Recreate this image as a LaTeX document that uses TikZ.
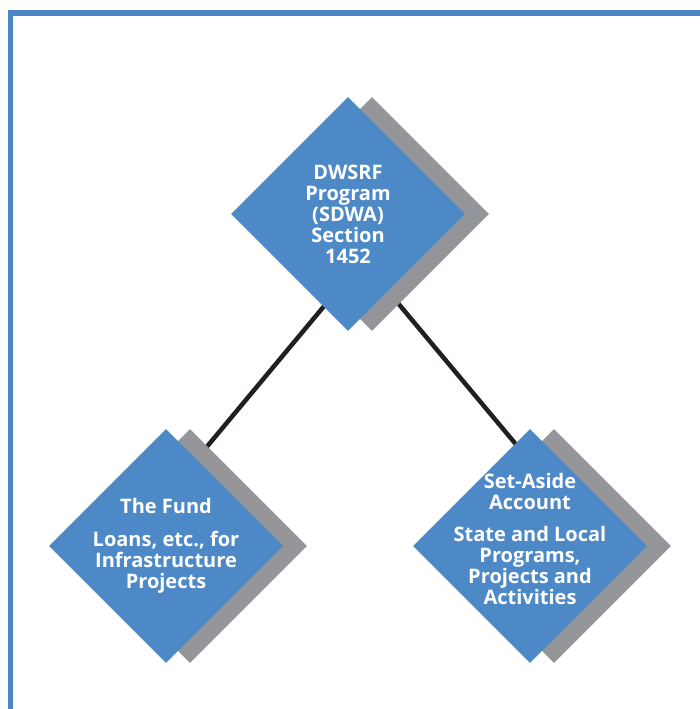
\documentclass[tikz,border=0pt]{standalone}
\usepackage{fontspec}
\setmainfont{Open Sans}
\usetikzlibrary{shapes.geometric,shadows,calc}
\definecolor{diablue}{RGB}{78,137,199}
\definecolor{frameblue}{RGB}{74,133,197}
\definecolor{shadegray}{RGB}{147,149,152}
\definecolor{linkblack}{RGB}{35,31,32}
\begin{document}
\begin{tikzpicture}[x=1pt, y=-1pt,
    dia node/.style={diamond, fill=diablue, inner sep=0pt, minimum width=234pt, minimum height=234pt,
      copy shadow={shadow xshift=24pt, shadow yshift=0pt, fill=shadegray, draw=none}},
    text node/.style={text=white, font=\bfseries\fontsize{20}{21}\selectfont, align=center},
    link/.style={draw=linkblack, line width=4.5pt}]
  \useasboundingbox (0,0) rectangle (700,709);

  % outer frame
  \draw[frameblue, line width=5.5pt] (10.7,720) -- (10.7,13.2) -- (710,13.2);

  \coordinate (dwsrfpos) at (348,214);
  \coordinate (fundpos) at (166,546);
  \coordinate (asidepos) at (530,546);

  % connectors (behind the diamonds)
  \coordinate (a1) at ($(dwsrfpos)+(-18,85)$);
  \coordinate (a2) at ($(fundpos)+(34,-91)$);
  \coordinate (b1) at ($(dwsrfpos)+(44,82)$);
  \coordinate (b2) at ($(asidepos)+(-6,-92)$);
  \draw[link] (a1) -- (a2);
  \draw[link] (b1) -- (b2);

  \node[dia node] (dwsrf) at (dwsrfpos) {};
  \node[dia node] (fund) at (fundpos) {};
  \node[dia node] (aside) at (asidepos) {};

  \node[text node] (dwsrftext) at (dwsrf) {DWSRF\\Program\\(SDWA)\\Section\\1452};
  \node[text node] (fundtext) at (fund) {The Fund\\[12pt]Loans, etc., for\\Infrastructure\\Projects};
  \node[text node] (asidetext) at ($(aside)+(0,-7)$) {Set-Aside\\Account\\[11pt]State and Local\\Programs,\\Projects and\\Activities};
\end{tikzpicture}
\end{document}
